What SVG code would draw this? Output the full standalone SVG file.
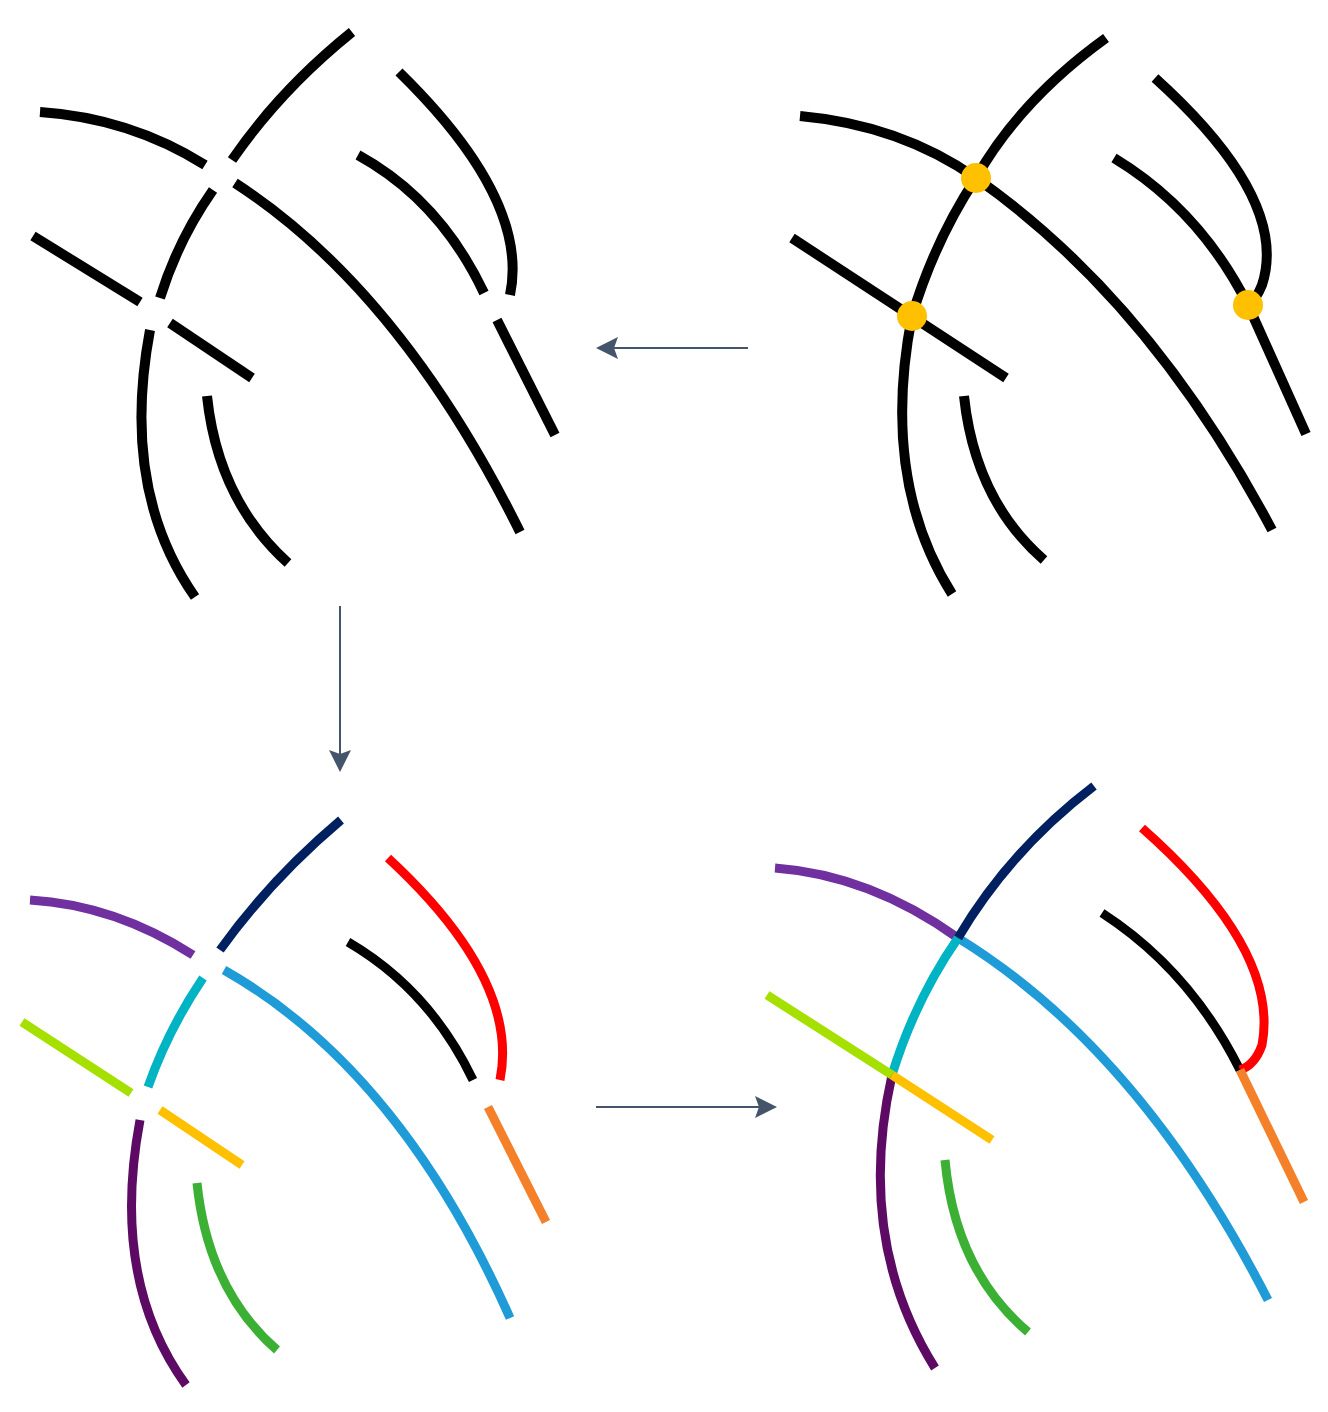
<svg xmlns="http://www.w3.org/2000/svg" width="1328" height="1412" viewBox="0 0 1328 1412">
<style>
path{fill:none;stroke-width:10}
.k path{stroke:#000}
.c path{stroke-width:9}
.ar{stroke:#44546a;stroke-width:2;fill:none}
</style>
<defs><marker id="ah" markerWidth="10" markerHeight="10" refX="9" refY="5" orient="auto" markerUnits="userSpaceOnUse" viewBox="0 0 10 10"><path d="M0,0 L10,5 L0,10 Z" style="fill:#44546a;stroke:none"/></marker>
<marker id="ah2" markerWidth="22" markerHeight="22" refX="20" refY="11" orient="auto" markerUnits="userSpaceOnUse" viewBox="0 0 22 22"><path d="M0,0 L22,11 L0,22 L4,11 Z" style="fill:#44546a;stroke:none"/></marker></defs>
<rect width="1328" height="1412" fill="#fff"/>
<g id="topright" class="k">
<path d="M800,116 Q900,125 976,178 Q1150,300 1272,530"/>
<path d="M1106,38 Q1020,100 976,178 Q935,240 912,316 Q880,480 952,594"/>
<path d="M792,238 L1006,378"/>
<path d="M964,396 Q975,500 1044,560"/>
<path d="M1114,158 Q1200,210 1248,305"/>
<path d="M1155,78 Q1290,200 1262,285 Q1256,300 1248,305"/>
<path d="M1248,305 L1306,434"/>
<g fill="#ffc000"><circle cx="976" cy="178" r="15"/><circle cx="912" cy="316" r="15"/><circle cx="1248" cy="305" r="15"/></g>
</g>
<g id="topleft" class="k">
<path d="M40,112 Q130,118 205,165"/>
<path d="M235,183 Q400,290 520,532"/>
<path d="M352,32 Q280,90 232,160"/>
<path d="M213,190 Q178,240 160,298"/>
<path d="M150,330 Q120,490 195,597"/>
<path d="M33,236 L140,302"/>
<path d="M170,323 L252,378"/>
<path d="M207,396 Q218,500 288,563"/>
<path d="M358,155 Q440,200 484,293"/>
<path d="M399,72 Q530,200 510,295"/>
<path d="M497,320 L555,435"/>
</g>
<g id="bottomleft" class="c">
<path d="M30,900 Q115,905 193,955" stroke="#7030a0"/>
<path d="M224,970 Q400,1070 510,1318" stroke="#1f9bd7"/>
<path d="M341,820 Q270,880 220,950" stroke="#002060"/>
<path d="M203,978 Q168,1030 148,1087" stroke="#00b4c4"/>
<path d="M140,1120 Q110,1280 186,1385" stroke="#5c0a64"/>
<path d="M22,1022 L131,1093" stroke="#a5e000"/>
<path d="M160,1110 L242,1165" stroke="#ffc000"/>
<path d="M197,1183 Q208,1290 277,1350" stroke="#3cb034"/>
<path d="M348,942 Q430,990 473,1080" stroke="#000"/>
<path d="M388,858 Q520,980 500,1080" stroke="#ff0000"/>
<path d="M488,1107 L546,1222" stroke="#f5802a"/>
</g>
<g id="bottomright" class="c">
<path d="M775,868 Q870,875 958,938" stroke="#7030a0"/>
<path d="M958,938 Q1140,1050 1268,1300" stroke="#1f9bd7"/>
<path d="M1094,786 Q1010,850 958,938" stroke="#002060"/>
<path d="M958,938 Q915,1000 892,1075" stroke="#00b4c4"/>
<path d="M892,1075 Q855,1240 935,1368" stroke="#5c0a64"/>
<path d="M767,995 L892,1075" stroke="#a5e000"/>
<path d="M892,1075 L992,1140" stroke="#ffc000"/>
<path d="M945,1160 Q955,1270 1028,1332" stroke="#3cb034"/>
<path d="M1102,913 Q1190,970 1240,1070" stroke="#000"/>
<path d="M1142,828 Q1280,950 1262,1045 Q1255,1065 1240,1070" stroke="#ff0000"/>
<path d="M1240,1070 L1304,1202" stroke="#f5802a"/>
</g>
<g id="connectors">
<path class="ar" d="M748,348 L598,348" marker-end="url(#ah2)"/>
<path class="ar" d="M340,606 L340,770" marker-end="url(#ah2)"/>
<path class="ar" d="M596,1107 L775,1107" marker-end="url(#ah2)"/>
</g>
</svg>
